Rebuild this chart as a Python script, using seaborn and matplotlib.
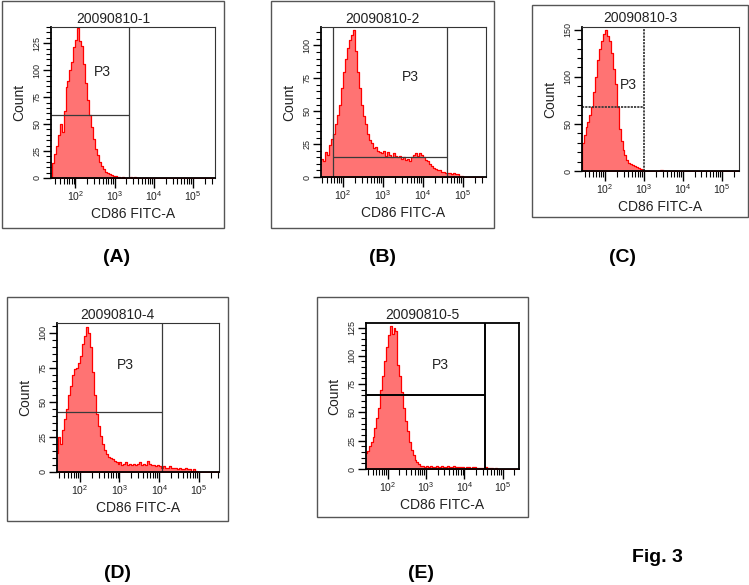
import numpy as np
import matplotlib
matplotlib.use("Agg")
import matplotlib.pyplot as plt
from matplotlib.patches import Rectangle
from matplotlib.ticker import MultipleLocator, LogLocator, NullFormatter
import seaborn as sns

# log10 bin centres of the CD86 FITC-A channel (82 bins, 0.05 decade wide)
log_fitc = np.linspace(1.425, 5.475, 82)

# counts per bin
count_1 = [14, 22, 30, 40, 50, 43, 62, 84, 90, 100,
           108, 121, 128, 139, 127, 122, 106, 88, 72, 58,
           47, 36, 27, 21, 15, 11, 8, 6, 5, 4,
           3, 2, 2, 1, 1, 0, 1, 0, 0, 0,
           1, 0, 1, 0, 0, 0, 0, 0, 0, 0,
           0, 0, 0, 0, 0, 0, 0, 0, 0, 0,
           0, 0, 0, 0, 0, 0, 0, 0, 0, 0,
           0, 0, 0, 0, 0, 0, 0, 0, 0, 0,
           0, 0]
count_2 = [12, 14, 12, 19, 17, 24, 29, 33, 40, 47,
           55, 68, 80, 90, 98, 104, 108, 112, 96, 80,
           68, 55, 46, 40, 33, 28, 26, 22, 23, 20,
           19, 18, 20, 16, 19, 17, 15, 18, 16, 15,
           16, 14, 15, 13, 14, 12, 15, 17, 18, 16,
           18, 17, 15, 13, 12, 10, 8, 7, 6, 5,
           5, 4, 4, 3, 3, 3, 2, 3, 2, 2,
           1, 1, 0, 0, 0, 0, 0, 0, 0, 0,
           0, 0]
count_3 = [30, 38, 47, 52, 60, 68, 84, 100, 118, 130,
           138, 146, 150, 143, 138, 125, 108, 92, 68, 45,
           32, 22, 17, 12, 9, 7, 6, 5, 4, 3,
           2, 1, 0, 0, 0, 0, 0, 0, 0, 0,
           1, 1, 0, 0, 0, 0, 0, 0, 0, 0,
           0, 0, 0, 0, 0, 0, 0, 0, 0, 0,
           0, 0, 0, 0, 0, 0, 0, 0, 0, 0,
           0, 0, 0, 0, 0, 0, 0, 0, 0, 0,
           0, 0]
count_4 = [14, 25, 20, 30, 38, 45, 55, 62, 70, 74,
           75, 78, 83, 92, 98, 104, 100, 90, 72, 55,
           42, 33, 26, 20, 16, 13, 11, 10, 9, 8,
           7, 6, 7, 5, 6, 7, 5, 6, 5, 6,
           5, 6, 7, 5, 6, 5, 8, 6, 5, 5,
           4, 5, 4, 3, 4, 3, 3, 4, 3, 3,
           3, 2, 3, 2, 2, 3, 2, 2, 1, 2,
           1, 0, 0, 0, 0, 0, 0, 0, 0, 0,
           0, 0]
count_5 = [14, 16, 20, 24, 28, 36, 45, 54, 70, 82,
           95, 108, 118, 126, 119, 125, 122, 92, 82, 68,
           54, 42, 34, 24, 17, 12, 8, 6, 4, 3,
           3, 2, 3, 2, 3, 2, 2, 3, 2, 2,
           3, 2, 2, 3, 2, 2, 3, 2, 2, 2,
           2, 2, 1, 2, 2, 1, 2, 2, 1, 1,
           1, 1, 1, 2, 1, 1, 1, 0, 1, 0,
           0, 0, 0, 0, 0, 0, 0, 0, 0, 0,
           0, 0]
counts = [count_1, count_2, count_3, count_4, count_5]

sample_ids = ["20090810-1", "20090810-2", "20090810-3", "20090810-4", "20090810-5"]
panel_tags = ["(A)", "(B)", "(C)", "(D)", "(E)"]

# P3 gate (log10 limits) and the marker height in counts
gate_lo = [None, 1.75, None, None, None]
gate_hi = [3.38, 4.60, 3.00, 4.08, 4.55]
gate_level = [58, 15, 68, 43, 65]

# axis ranges
x_range = [(1.38, 5.56), (1.45, 5.57), (1.41, 5.44), (1.43, 5.50), (1.43, 5.43)]
y_top = [140, 114, 153, 107, 129]
y_major = [25, 25, 50, 25, 25]
y_minor = [5, 5, 10, 5, 5]

# layout in pixels (x0, y0, x1, y1), measured from the top-left corner
W, H = 749, 585
plot_px = [(51, 27, 215, 178), (321, 27, 486, 177), (582, 27, 739, 171),
           (57, 323, 219, 472), (366, 323, 519, 469)]
frame_px = [(2, 1, 224, 228), (271, 1, 494, 228), (532, 5, 748, 217),
            (7, 297, 228, 521), (317, 297, 528, 517)]
title_y = [19, 19, 18, 315, 315]
p3_px = [(102, 72), (410, 77), (628, 85), (125, 365), (440, 365)]
tag_px = [(117, 257), (382, 257), (623, 257), (117, 573), (421, 573)]

sns.set_style("ticks")
plt.rcParams["font.family"] = ["Liberation Sans", "DejaVu Sans"]
plt.rcParams["mathtext.fontset"] = "custom"
plt.rcParams["mathtext.rm"] = "Liberation Sans"
plt.rcParams["mathtext.it"] = "Liberation Sans"
plt.rcParams["mathtext.bf"] = "Liberation Sans:bold"


def fx(x):
    return x / W


def fy(y):
    return 1 - y / H


fig = plt.figure(figsize=(7.49, 5.85), dpi=100)
fig.patch.set_facecolor("white")

for i in range(5):
    x0, y0, x1, y1 = plot_px[i]
    ax = fig.add_axes([fx(x0), fy(y1), fx(x1 - x0), (y1 - y0) / H])

    sns.histplot(x=10 ** log_fitc, weights=counts[i], binwidth=0.05, binrange=(1.40, 5.50),
                 log_scale=True, element="step", fill=True, color="red", alpha=0.55,
                 linewidth=0.9, ax=ax)

    ax.set_xlim(10 ** x_range[i][0], 10 ** x_range[i][1])
    ax.set_ylim(0, y_top[i])

    # gate lines
    gcol = "black" if i == 4 else "#3a3a3a"
    glw = 1.4 if i == 4 else (1.3 if i == 2 else 0.9)
    gls = (0, (1.2, 0.6)) if i == 2 else "-"
    ax.axvline(10 ** gate_hi[i], color=gcol, lw=glw, ls=gls)
    left = 10 ** x_range[i][0] if gate_lo[i] is None else 10 ** gate_lo[i]
    if gate_lo[i] is not None:
        ax.axvline(left, color=gcol, lw=glw, ls=gls)
    ax.hlines(gate_level[i], left, 10 ** gate_hi[i], color=gcol, lw=glw, ls=gls)

    # ticks
    ax.xaxis.set_major_locator(LogLocator(base=10, numticks=10))
    ax.xaxis.set_minor_locator(LogLocator(base=10, subs=np.arange(2, 10), numticks=10))
    ax.xaxis.set_minor_formatter(NullFormatter())
    ax.yaxis.set_major_locator(MultipleLocator(y_major[i]))
    ax.yaxis.set_minor_locator(MultipleLocator(y_minor[i]))
    ax.tick_params(axis="x", which="major", length=7, width=1, labelsize=7.5, pad=1,
                   color="black", labelcolor="#222222")
    ax.tick_params(axis="x", which="minor", length=4, width=0.8, color="black")
    ax.tick_params(axis="y", which="major", length=6, width=1, labelsize=6.5, pad=1,
                   labelrotation=90, color="black", labelcolor="#222222")
    ax.tick_params(axis="y", which="minor", length=3.5, width=0.8, color="black")
    for lab in ax.get_yticklabels():
        lab.set_va("center")

    for side in ["left", "bottom"]:
        ax.spines[side].set_color("black")
        ax.spines[side].set_linewidth(1.3)
    for side in ["top", "right"]:
        ax.spines[side].set_visible(True)
        ax.spines[side].set_color("black" if i == 4 else "#333333")
        ax.spines[side].set_linewidth(1.3 if i == 4 else 0.8)

    ax.set_xlabel("CD86 FITC-A", fontsize=10, color="#222222", labelpad=3)
    ax.set_ylabel("Count", fontsize=10, color="#222222", labelpad=4)

    # outer frame, sample id, gate name
    bx0, by0, bx1, by1 = frame_px[i]
    fig.patches.append(Rectangle((fx(bx0), fy(by1)), fx(bx1 - bx0), (by1 - by0) / H,
                                 transform=fig.transFigure, fill=False,
                                 edgecolor="#555555", lw=1))
    fig.text(fx((bx0 + bx1) / 2), fy(title_y[i]), sample_ids[i], ha="center", va="center",
             fontsize=10, color="#222222")
    fig.text(fx(p3_px[i][0]), fy(p3_px[i][1]), "P3", ha="center", va="center",
             fontsize=10, color="#222222")
    fig.text(fx(tag_px[i][0]), fy(tag_px[i][1]), panel_tags[i], ha="center", va="center",
             fontsize=14, fontweight="bold", color="black")

fig.text(fx(657), fy(557), "Fig. 3", ha="center", va="center", fontsize=14,
         fontweight="bold", color="black")

fig.savefig("out.png", dpi=100)
